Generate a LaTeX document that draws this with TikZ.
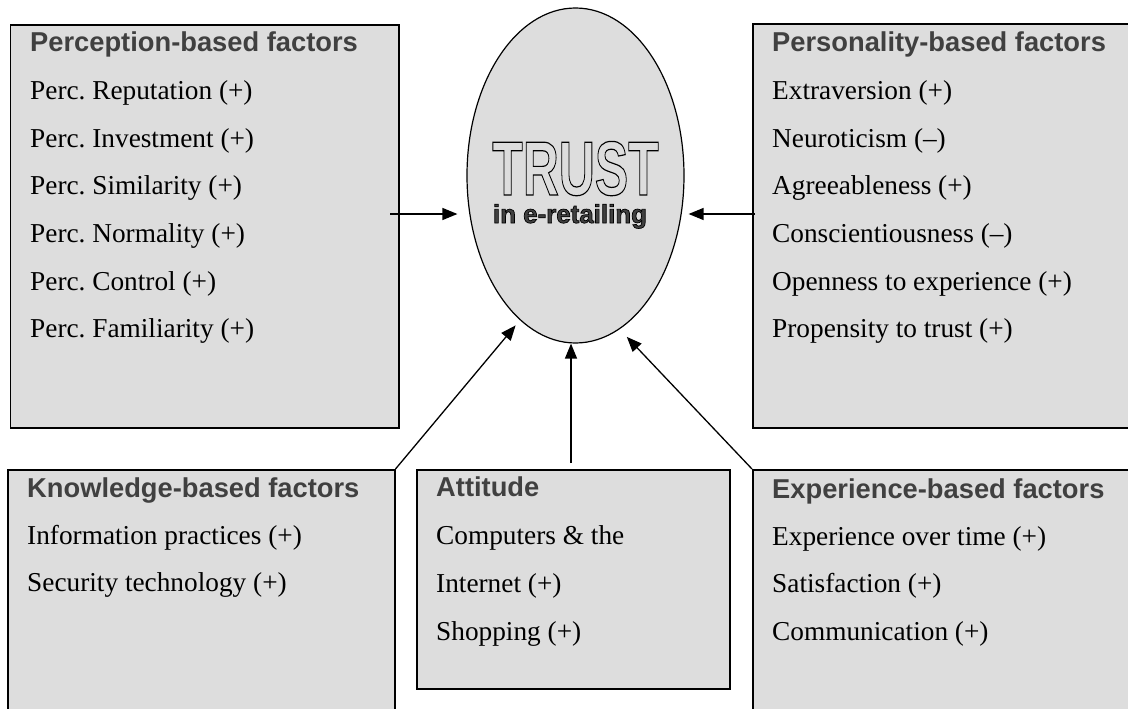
\documentclass[tikz,border=0pt]{standalone}
\usepackage{graphicx}
\usepackage{fontspec}
\setmainfont{Liberation Serif}
\newfontfamily\headfont{Liberation Sans}
\usetikzlibrary{arrows.meta}
\usetikzlibrary{shapes.geometric}

\definecolor{boxgray}{RGB}{221,221,221}
\definecolor{headgray}{RGB}{64,64,64}

\newcommand{\outlinetext}[1]{\special{pdf:literal direct 1 Tr 1.2 w}#1\special{pdf:literal direct 0 Tr}}

\tikzset{
  box/.style={draw, line width=1.5pt, fill=boxgray, anchor=north west, inner sep=0pt},
  head/.style={anchor=base west, inner sep=0pt, text=headgray, font=\headfont\bfseries\fontsize{27.3}{32}\selectfont},
  item/.style={anchor=base west, inner sep=0pt, font=\fontsize{27.3}{32}\selectfont},
  arr/.style={line width=1.3pt, -{Triangle[length=15pt,width=12pt]}}
}

\begin{document}
\frenchspacing
\begin{tikzpicture}[x=1pt,y=1pt,yscale=-1,xscale=1]
\useasboundingbox (0,0) rectangle (1128,709);
\clip (0,0) rectangle (1128,709);

%Shape: Ellipse [trust]
\node[draw, ellipse, line width=1.2pt, fill=boxgray, minimum width=217pt, minimum height=335pt, inner sep=0pt] (trust) at (575.5,175.5) {};
% Text Node
\node[anchor=base, inner sep=0pt] (trust-title) at (575.5,195) {\scalebox{0.65}[1]{\headfont\bfseries\fontsize{76.8}{80}\selectfont\outlinetext{TRUST}}};
% Text Node
\node[anchor=base, inner sep=0pt, text=headgray] (trust-sub) at (570,223) {\headfont\bfseries\fontsize{25.9}{28}\selectfont\special{pdf:literal direct 0 0 0 RG 2 Tr 0.7 w}in e-retailing\special{pdf:literal direct 0 Tr}};

%Shape: Rectangle [perception]
\node[box, minimum width=388.5pt, minimum height=402.5pt] (perc) at (9.5,24.5) {};
\node[head] (perc-head) at (30,52) {Perception-based factors};
\foreach \t [count=\i] in {Perc. Reputation (+), Perc. Investment (+), Perc. Similarity (+), Perc. Normality (+), Perc. Control (+), Perc. Familiarity (+)}
  \node[item] (perc-\i) at (30,52+47.6*\i) {\t};

%Shape: Rectangle [personality]
\node[box, minimum width=388pt, minimum height=403.5pt] (pers) at (752,23.5) {};
\node[head] (pers-head) at (772,52) {Personality-based factors};
\foreach \t [count=\i] in {Extraversion (+), Neuroticism (\textendash), Agreeableness (+), Conscientiousness (\textendash), Openness to experience (+), Propensity to trust (+)}
  \node[item] (pers-\i) at (772,52+47.6*\i) {\t};

%Shape: Rectangle [knowledge]
\node[box, minimum width=387pt, minimum height=261pt] (know) at (7,469) {};
\node[head] (know-head) at (27,497) {Knowledge-based factors};
\foreach \t [count=\i] in {Information practices (+), Security technology (+)}
  \node[item] (know-\i) at (27,497+47.4*\i) {\t};

%Shape: Rectangle [attitude]
\node[box, minimum width=313pt, minimum height=219pt] (att) at (416,469) {};
\node[head] (att-head) at (436,496) {Attitude};
\foreach \t [count=\i] in {Computers \& the, Internet (+), Shopping (+)}
  \node[item] (att-\i) at (436,496+48*\i) {\t};

%Shape: Rectangle [experience]
\node[box, minimum width=388pt, minimum height=261pt] (exper) at (752,469) {};
\node[head] (exper-head) at (772,498) {Experience-based factors};
\foreach \t [count=\i] in {Experience over time (+), Satisfaction (+), Communication (+)}
  \node[item] (exper-\i) at (772,498+47.4*\i) {\t};

% Connection
\coordinate (pin) at (390,214);
\coordinate (qin) at (755,214);
\coordinate (att-top) at (571,463);
\draw[arr, shorten >=9pt] (pin) -- (pin -| trust.west);
\draw[arr, shorten >=4pt] (qin) -- (qin -| trust.east);
\draw[arr, shorten >=6.8pt] (know.north east) -- (trust.249);
\draw[arr] (att-top) -- (att-top |- trust.south);
\draw[arr, shorten >=10.5pt] (exper.north west) -- (trust.286);

\end{tikzpicture}
\end{document}
